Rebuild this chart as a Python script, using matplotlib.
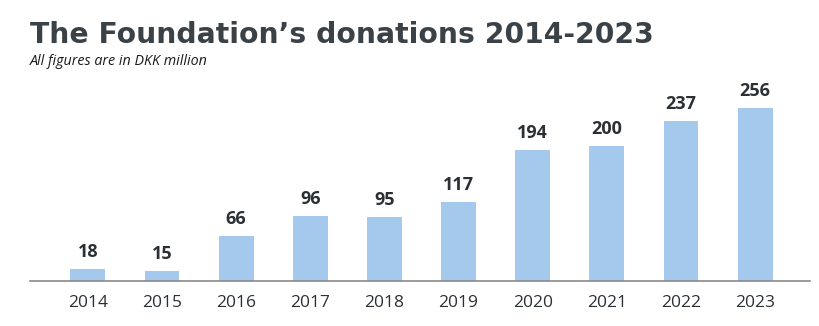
import matplotlib.pyplot as plt

years = ['2014', '2015', '2016', '2017', '2018', '2019', '2020', '2021', '2022', '2023']
donations = [18, 15, 66, 96, 95, 117, 194, 200, 237, 256]

bar_color = '#a4c9ec'
text_color = '#3b4247'

fig = plt.figure(figsize=(8.2, 3.26), dpi=100)
ax = fig.add_axes([30/820, 45/326, 780/820, 230/326])

x = range(len(years))
bars = ax.bar(x, donations, width=0.47, color=bar_color, zorder=2)
for xi, v in zip(x, donations):
    ax.text(xi, v + 12, str(v), ha='center', va='bottom', fontsize=13,
            fontweight='bold', color='#2b3035', family='Open Sans')

ax.set_xlim(-0.78, 9.74)
ax.set_ylim(0, 340)
ax.set_xticks(list(x))
ax.set_xticklabels(years, fontsize=12.5, color='#2b3035', family='Open Sans')
ax.tick_params(axis='x', length=0, pad=10)
ax.set_yticks([])
for s in ['top', 'right', 'left']:
    ax.spines[s].set_visible(False)
ax.spines['bottom'].set_color('#8a8a8a')
ax.spines['bottom'].set_linewidth(1.2)

fig.text(30/820, 1 - 43/326, 'The Foundation\u2019s donations 2014-2023', fontsize=20.3,
         fontweight='bold', color=text_color, family='DejaVu Sans', va='baseline')
fig.text(30/820, 1 - 65/326, 'All figures are in DKK million', fontsize=10.3,
         style='italic', color='#1a1a1a', family='Open Sans', va='baseline')

fig.savefig('out.png', dpi=100)
